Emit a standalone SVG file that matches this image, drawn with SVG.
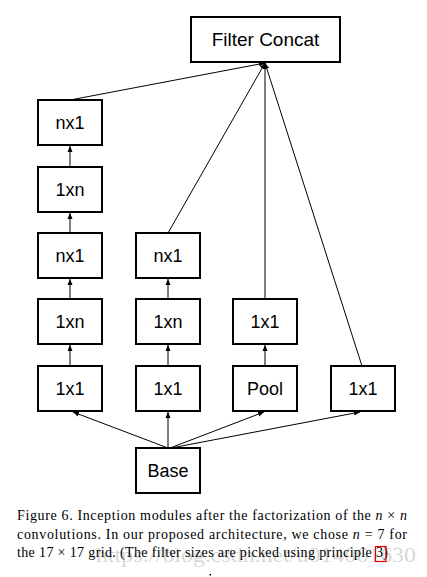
<svg xmlns="http://www.w3.org/2000/svg" width="427" height="577" viewBox="0 0 427 577">
<style>
.box{fill:#fff;stroke:#000;stroke-width:2}
.lbl{font-family:"Liberation Sans",Arial,sans-serif;font-size:18px;text-anchor:middle;fill:#000}
.edge{stroke:#000;stroke-width:1;fill:none;marker-end:url(#ah)}
.cap{font-family:"Liberation Serif","Times New Roman",serif;font-size:14px;fill:#000}
.m{font-style:italic}
</style>
<defs>
<marker id="ah" markerUnits="userSpaceOnUse" markerWidth="6" markerHeight="6" refX="6" refY="3" orient="auto">
<path d="M0,0.5 L6,3 L0,5.5 Z" fill="#000"/>
</marker>
</defs>
<rect width="427" height="577" fill="#fff"/>
<g id="connectors">
<line class="edge" x1="70" y1="100" x2="265" y2="63"/>
<line class="edge" x1="168" y1="233" x2="265" y2="63"/>
<line class="edge" x1="265" y1="299" x2="265" y2="63"/>
<line class="edge" x1="362" y1="366" x2="265" y2="63"/>
<line class="edge" x1="70" y1="167" x2="70" y2="146"/>
<line class="edge" x1="70" y1="233" x2="70" y2="213"/>
<line class="edge" x1="70" y1="299" x2="70" y2="279"/>
<line class="edge" x1="70" y1="366" x2="70" y2="345"/>
<line class="edge" x1="168" y1="299" x2="168" y2="279"/>
<line class="edge" x1="168" y1="366" x2="168" y2="345"/>
<line class="edge" x1="265" y1="366" x2="265" y2="345"/>
<line class="edge" x1="168" y1="448" x2="73" y2="412"/>
<line class="edge" x1="168" y1="448" x2="168" y2="412"/>
<line class="edge" x1="170" y1="448" x2="264" y2="412"/>
<line class="edge" x1="171" y1="448" x2="360" y2="412"/>
</g>
<g id="concat"><rect class="box" x="191" y="17" width="149" height="45"/><text class="lbl" x="265.5" y="46" style="font-size:19px">Filter Concat</text></g>
<g id="c1r1"><rect class="box" x="38" y="100" width="64" height="45"/><text class="lbl" x="70" y="129">nx1</text></g>
<g id="c1r2"><rect class="box" x="38" y="167" width="64" height="45"/><text class="lbl" x="70" y="196">1xn</text></g>
<g id="c1r3"><rect class="box" x="38" y="233" width="64" height="45"/><text class="lbl" x="70" y="262">nx1</text></g>
<g id="c1r4"><rect class="box" x="38" y="299" width="64" height="45"/><text class="lbl" x="70" y="328">1xn</text></g>
<g id="c1r5"><rect class="box" x="38" y="366" width="64" height="45"/><text class="lbl" x="70" y="395">1x1</text></g>
<g id="c2r3"><rect class="box" x="136" y="233" width="64" height="45"/><text class="lbl" x="168" y="262">nx1</text></g>
<g id="c2r4"><rect class="box" x="136" y="299" width="64" height="45"/><text class="lbl" x="168" y="328">1xn</text></g>
<g id="c2r5"><rect class="box" x="136" y="366" width="64" height="45"/><text class="lbl" x="168" y="395">1x1</text></g>
<g id="c3r4"><rect class="box" x="233" y="299" width="64" height="45"/><text class="lbl" x="265" y="328">1x1</text></g>
<g id="c3r5"><rect class="box" x="233" y="366" width="64" height="45"/><text class="lbl" x="265" y="395">Pool</text></g>
<g id="c4r5"><rect class="box" x="331" y="366" width="64" height="45"/><text class="lbl" x="363" y="395">1x1</text></g>
<g id="base"><rect class="box" x="136" y="448" width="64" height="45"/><text class="lbl" x="168" y="477">Base</text></g>
<text x="96" y="562" font-family="'Liberation Serif',serif" font-size="21" fill="#000" fill-opacity="0.18" textLength="320" lengthAdjust="spacingAndGlyphs">https://blog.csdn.net/u014061630</text>
<text class="cap" x="17" y="520" textLength="390" lengthAdjust="spacing">Figure 6. Inception modules after the factorization of the <tspan class="m">n</tspan> × <tspan class="m">n</tspan></text>
<text class="cap" x="17" y="538.5" textLength="390" lengthAdjust="spacing">convolutions. In our proposed architecture, we chose <tspan class="m">n</tspan> = 7 for</text>
<text class="cap" x="17" y="557" textLength="371" lengthAdjust="spacing">the 17 × 17 grid. (The filter sizes are picked using principle 3)</text>
<rect x="375.5" y="546.5" width="10.5" height="15" fill="none" stroke="#e00000" stroke-width="1.2"/>
<rect x="209.5" y="574" width="1.5" height="1.5" fill="#000"/>
</svg>
